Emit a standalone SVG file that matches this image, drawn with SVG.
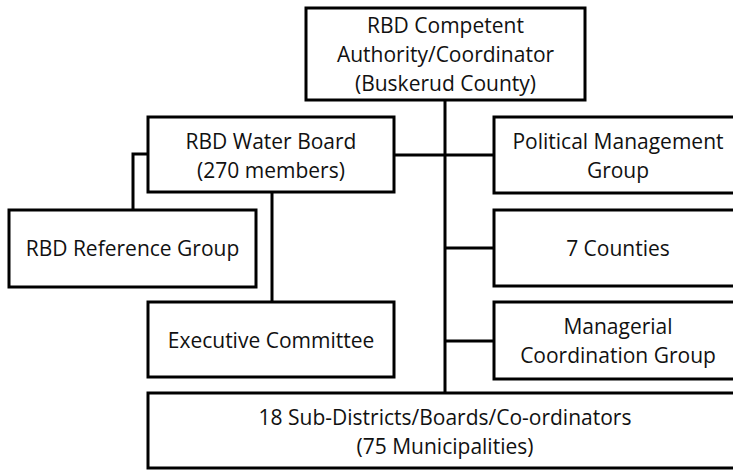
<svg xmlns="http://www.w3.org/2000/svg" width="733" height="470" viewBox="0 0 733 470">
<style>
.box{fill:#fff;stroke:#000;stroke-width:3}
.ln{fill:none;stroke:#000;stroke-width:3}
text{font-family:"Open Sans","Noto Sans",sans-serif;font-size:21px;fill:#111;text-anchor:middle}
</style>
<rect width="733" height="470" fill="#fff"/>
<g id="connectors">
<path class="ln" d="M445 100 V393"/>
<path class="ln" d="M394 155 H494"/>
<path class="ln" d="M445 248 H494"/>
<path class="ln" d="M445 341 H494"/>
<path class="ln" d="M272 192 V302"/>
<path class="ln" d="M148 154 H133 V210"/>
</g>
<g id="competent-authority">
<rect class="box" x="306" y="8" width="279" height="92"/>
<text x="445.5" y="33">RBD Competent</text>
<text x="445.5" y="62">Authority/Coordinator</text>
<text x="445.5" y="91">(Buskerud County)</text>
</g>
<g id="water-board">
<rect class="box" x="148" y="117" width="246" height="75"/>
<text x="271" y="149">RBD Water Board</text>
<text x="271" y="178">(270 members)</text>
</g>
<g id="reference-group">
<rect class="box" x="9" y="210" width="247" height="77"/>
<text x="132.5" y="256">RBD Reference Group</text>
</g>
<g id="executive-committee">
<rect class="box" x="148" y="302" width="246" height="75"/>
<text x="271" y="348">Executive Committee</text>
</g>
<g id="political-management">
<rect class="box" x="494" y="117" width="248" height="76"/>
<text x="618" y="149">Political Management</text>
<text x="618" y="178">Group</text>
</g>
<g id="counties">
<rect class="box" x="494" y="210" width="248" height="76"/>
<text x="618" y="256">7 Counties</text>
</g>
<g id="managerial-coordination">
<rect class="box" x="494" y="302" width="248" height="77"/>
<text x="618" y="334">Managerial</text>
<text x="618" y="363">Coordination Group</text>
</g>
<g id="sub-districts">
<rect class="box" x="148" y="393" width="594" height="75"/>
<text x="445" y="425">18 Sub-Districts/Boards/Co-ordinators</text>
<text x="445" y="454">(75 Municipalities)</text>
</g>
</svg>
